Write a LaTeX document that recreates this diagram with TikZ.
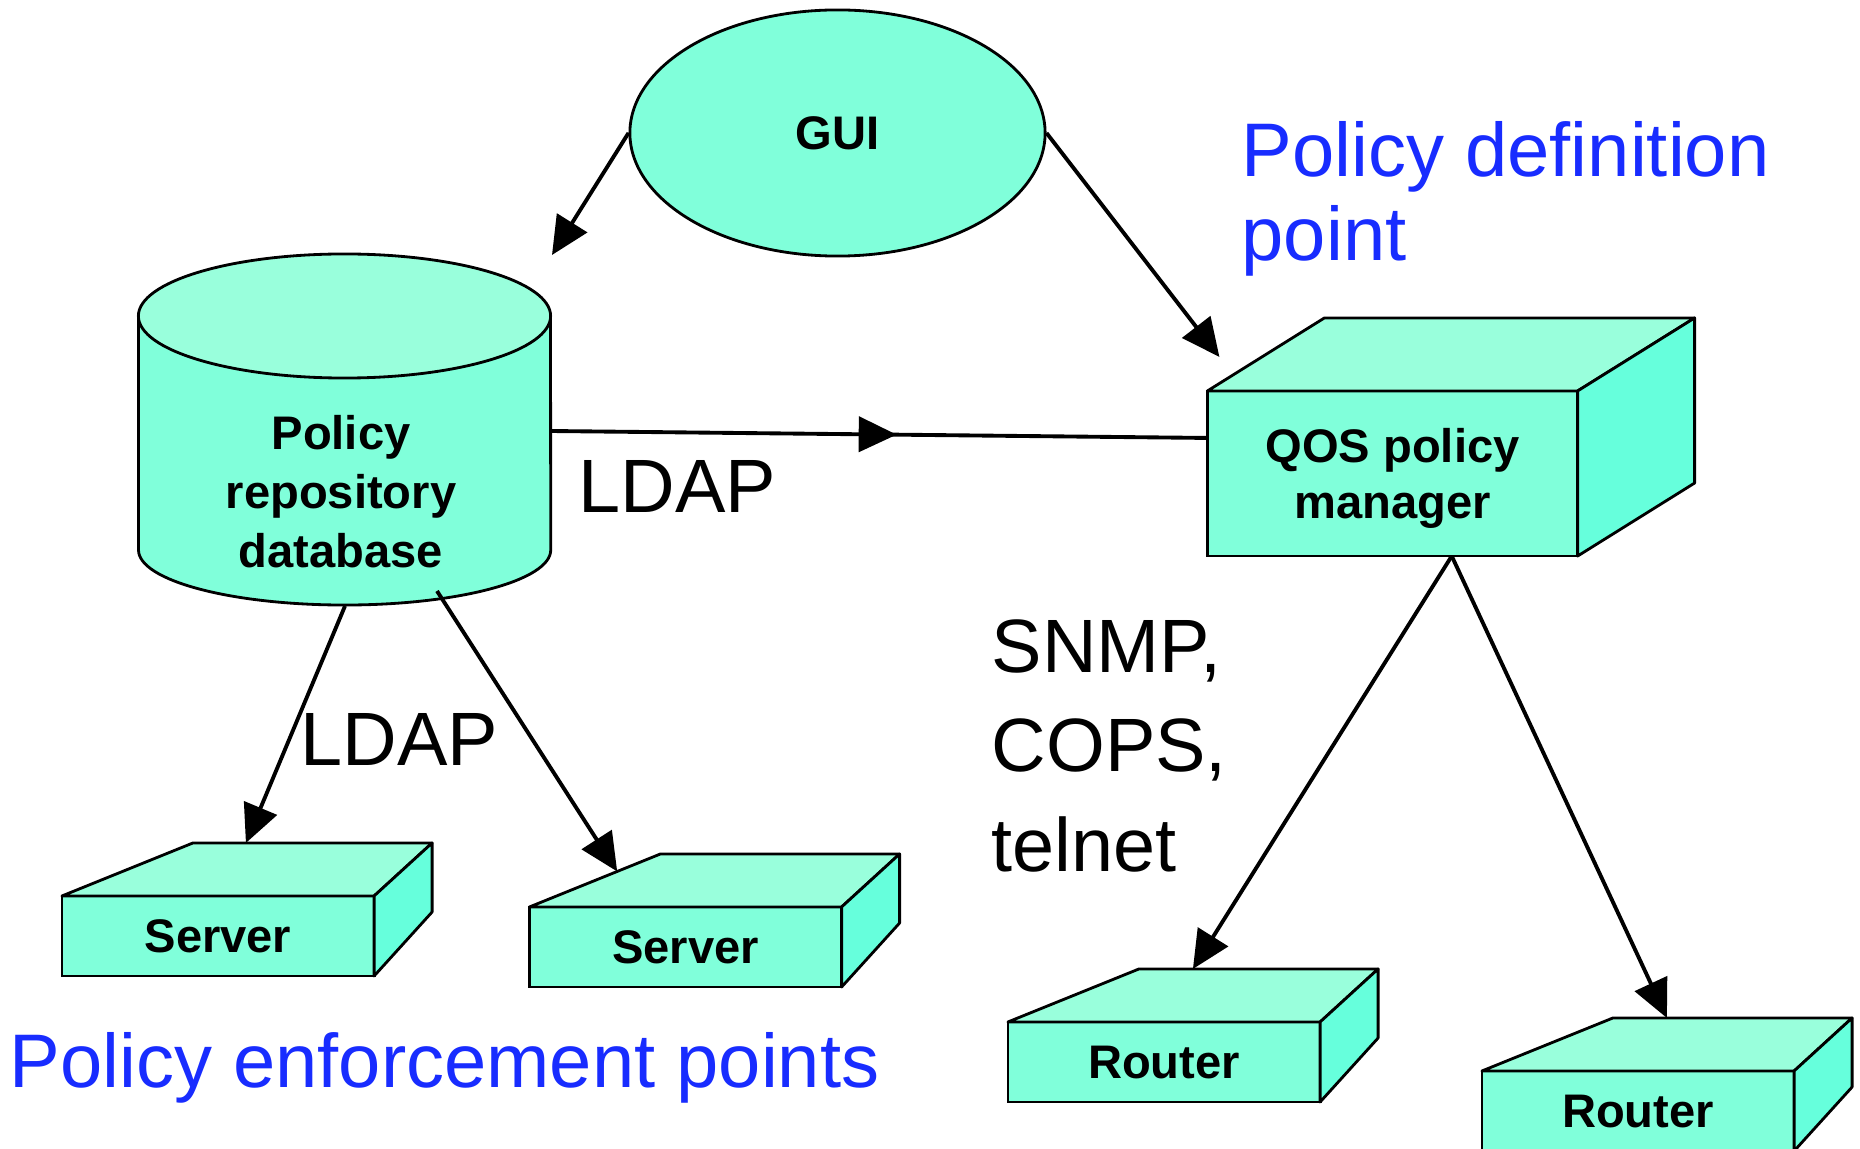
\documentclass[tikz,border=0pt]{standalone}
\usepackage{fontspec}
\setmainfont{Liberation Sans}
\usetikzlibrary{shapes.geometric, arrows.meta, calc, decorations.markings}

\definecolor{faceC}{RGB}{128,255,218}
\definecolor{topC}{RGB}{153,255,220}
\definecolor{sideC}{RGB}{102,255,220}
\definecolor{noteblue}{RGB}{24,44,255}

\begin{document}
\begin{tikzpicture}[
    x=0.01cm, y=-0.01cm,
    lbl/.style={font=\fontsize{13.4pt}{16.8pt}\selectfont\bfseries, align=center},
    front/.style={rectangle, draw, line width=0.8pt, fill=faceC, inner sep=0pt, outer sep=0pt, minimum width=3.12cm, minimum height=0.8cm, text depth=0pt, lbl},
    topside/.style={draw, line width=0.8pt, fill=topC, line join=round},
    rightside/.style={draw, line width=0.8pt, fill=sideC, line join=round},
    proto/.style={anchor=base west, inner sep=0pt, align=left, font=\fontsize{21.5pt}{28.2pt}\selectfont},
    note/.style={anchor=base west, inner sep=0pt, align=left, text=noteblue, font=\fontsize{21.6pt}{23.9pt}\selectfont},
    arrow/.style={-{Triangle[length=10.8pt,width=10pt]}, line width=1.1pt},
    midarrow/.style={line width=1.1pt, postaction={decorate}, decoration={markings, mark=at position 0.527 with {\arrow{Triangle[length=10.8pt,width=10pt]}}}}
]

\useasboundingbox (0,0) rectangle (1860,1149);

% GUI
\node[ellipse, draw, line width=0.8pt, fill=faceC, minimum width=4.15cm, minimum height=2.46cm, inner sep=0pt, lbl] (gui) at (837.5,133) {GUI};

% Policy repository (cylinder)
\fill[faceC] (138.5,316) -- (138.5,550) arc[start angle=180, end angle=360, x radius=2.06cm, y radius=0.55cm] -- (550.5,316) -- cycle;
\draw[line width=0.8pt] (138.5,316) -- (138.5,550) arc[start angle=180, end angle=360, x radius=2.06cm, y radius=0.55cm] -- (550.5,316);
\draw[line width=0.8pt, fill=topC] (344.5,316) ellipse [x radius=2.06cm, y radius=0.62cm];
\node[lbl, inner sep=0pt] (db) at (341,492) {Policy\\repository\\database};

% QOS policy manager
\node[front, minimum width=3.70cm, minimum height=1.65cm, font=\fontsize{13.4pt}{15.9pt}\selectfont\bfseries] (qos) at (1392.5,473.5) {QOS policy\\manager};
\draw[topside] (qos.north west) -- ++(117,-73) -- ($(qos.north east)+(117,-73)$) -- (qos.north east) -- cycle;
\draw[rightside] (qos.north east) -- ++(117,-73) -- ($(qos.south east)+(117,-73)$) -- (qos.south east) -- cycle;

% Servers and routers
\node[front] (srvA) at (218,936) {Server};
\node[front] (srvB) at (685.5,947) {Server};
\node[front] (rtrA) at (1164,1062) {Router};
\node[front] (rtrB) at (1638,1111) {Router};
\foreach \b in {srvA,srvB,rtrA,rtrB}{
  \draw[topside] (\b.north west) -- ++(131,-53) coordinate (\b-back) -- ($(\b.north east)+(58,-53)$) -- (\b.north east) -- cycle;
  \draw[rightside] (\b.north east) -- ++(58,-53) -- ($(\b.south east)+(58,-64)$) -- (\b.south east) -- cycle;
}

% Connector ends
\coordinate (guiTip) at (552,255);
\coordinate (dbR) at (550.5,431);
\coordinate (dbS1) at (345,606);
\coordinate (dbS2) at (437,591);
\coordinate (qosS) at ($(qos.south west)!0.66!(qos.south east)$);

% Arrows
\draw[arrow] (gui.west) -- (guiTip);
\draw[arrow] (gui.east) -- ($(qos.north west)+(12,-34)$);
\draw[midarrow] (dbR) -- ($(qos.north west)+(0,47)$);
\draw[arrow] (dbS1) -- ($(srvA-back)+(53,0)$);
\draw[arrow] (dbS2) -- ($(srvB.north west)!0.67!(srvB-back)$);
\draw[arrow] (qosS) -- ($(rtrA-back)+(54,0)$);
\draw[arrow] (qosS) -- ($(rtrB-back)+(54,0)$);

% Labels
\node[proto] (ldapTop) at (578,513) {LDAP};
\node[proto] (ldapLow) at (300,765) {LDAP};
\node[proto] (mgmt) at (991,871) {SNMP,\\COPS,\\telnet};
\node[note] (pdp) at (1241,261) {Policy definition\\point};
\node[note] (pep) at (9,1087) {Policy enforcement points};

\end{tikzpicture}
\end{document}
